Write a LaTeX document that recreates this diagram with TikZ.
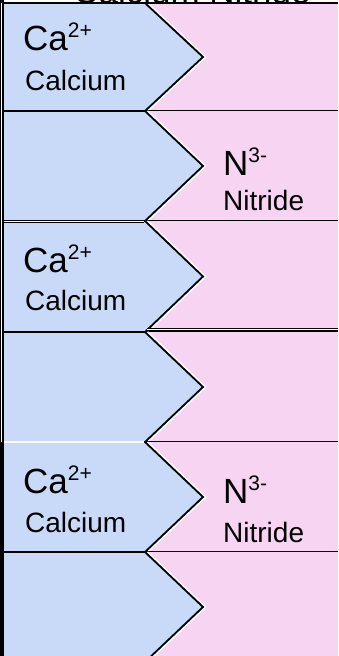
\documentclass[tikz,border=0pt]{standalone}
\usepackage{fontspec}
\setmainfont{Liberation Sans}
\usetikzlibrary{positioning}
\definecolor{ionblue}{HTML}{C9DAF8}
\definecolor{ionpink}{HTML}{F8D4F3}
\tikzstyle{edge}=[draw=black,line width=1.8pt]
\tikzstyle{twin}=[draw=black,double=white,line width=0.8pt,double distance=1.3pt]
\tikzstyle{ion}=[anchor=base west,inner sep=0pt,font=\fontsize{35}{35}\selectfont]
\tikzstyle{ionname}=[anchor=base west,inner sep=0pt,font=\fontsize{28}{28}\selectfont]
\newcommand{\charge}[1]{\raisebox{13pt}{\fontsize{21}{21}\selectfont #1}}
% one strip: pink band with the blue arrow shape cut into it
\newcommand{\strip}[2]{%
  \fill[ionpink] (3,#1) rectangle (338,#2);
  \draw[white,line width=1.6pt] (147.5,#1) -- (205.5,{(#1+#2)/2}) -- (147.5,#2);
  \filldraw[fill=ionblue,edge] (3,#1) -- (145,#1) -- (203,{(#1+#2)/2}) -- (145,#2) -- (3,#2);
  \draw[edge] (3,#2) -- (338,#2);
}

\begin{document}
\begin{tikzpicture}[x=1pt,y=-1pt]
    \useasboundingbox (0,0) rectangle (338,656);
    \clip (0,0) rectangle (338,656);
    \node[font=\fontsize{35}{35}\selectfont,anchor=base,inner sep=0pt] (title) at (192,3.5) {Calcium Nitride};
    \strip{3}{111}
    \strip{111}{221}
    \strip{221}{332}
    \strip{332}{442}
    \strip{442}{552}
    \strip{552}{662}
    \draw[edge] (0,3) -- (338,3);
    % doubled seams
    \draw[twin] (3,221.5) -- (144,221.5);
    \draw[twin] (147,329.5) -- (338,329.5);
    \draw[twin] (3,442) -- (144,442);
    \draw[line width=4pt] (2,0) -- (2,656);
    \draw[white,line width=0.6pt] (1.5,3) -- (1.5,442);
    % labels
    \node[ion] (ca1) at (23,50) {Ca\charge{2+}};
    \node[ionname] (calcium1) at (25,90) {Calcium};
    \node[ion] (n1) at (223,175) {N\charge{3-}};
    \node[ionname] (nitride1) at (223,210) {Nitride};
    \node[ion] (ca2) at (23,272) {Ca\charge{2+}};
    \node[ionname] (calcium2) at (25,310) {Calcium};
    \node[ion] (ca3) at (23,493) {Ca\charge{2+}};
    \node[ionname] (calcium3) at (25,532) {Calcium};
    \node[ion] (n2) at (223,503) {N\charge{3-}};
    \node[ionname] (nitride2) at (223,542) {Nitride};
\end{tikzpicture}
\end{document}
